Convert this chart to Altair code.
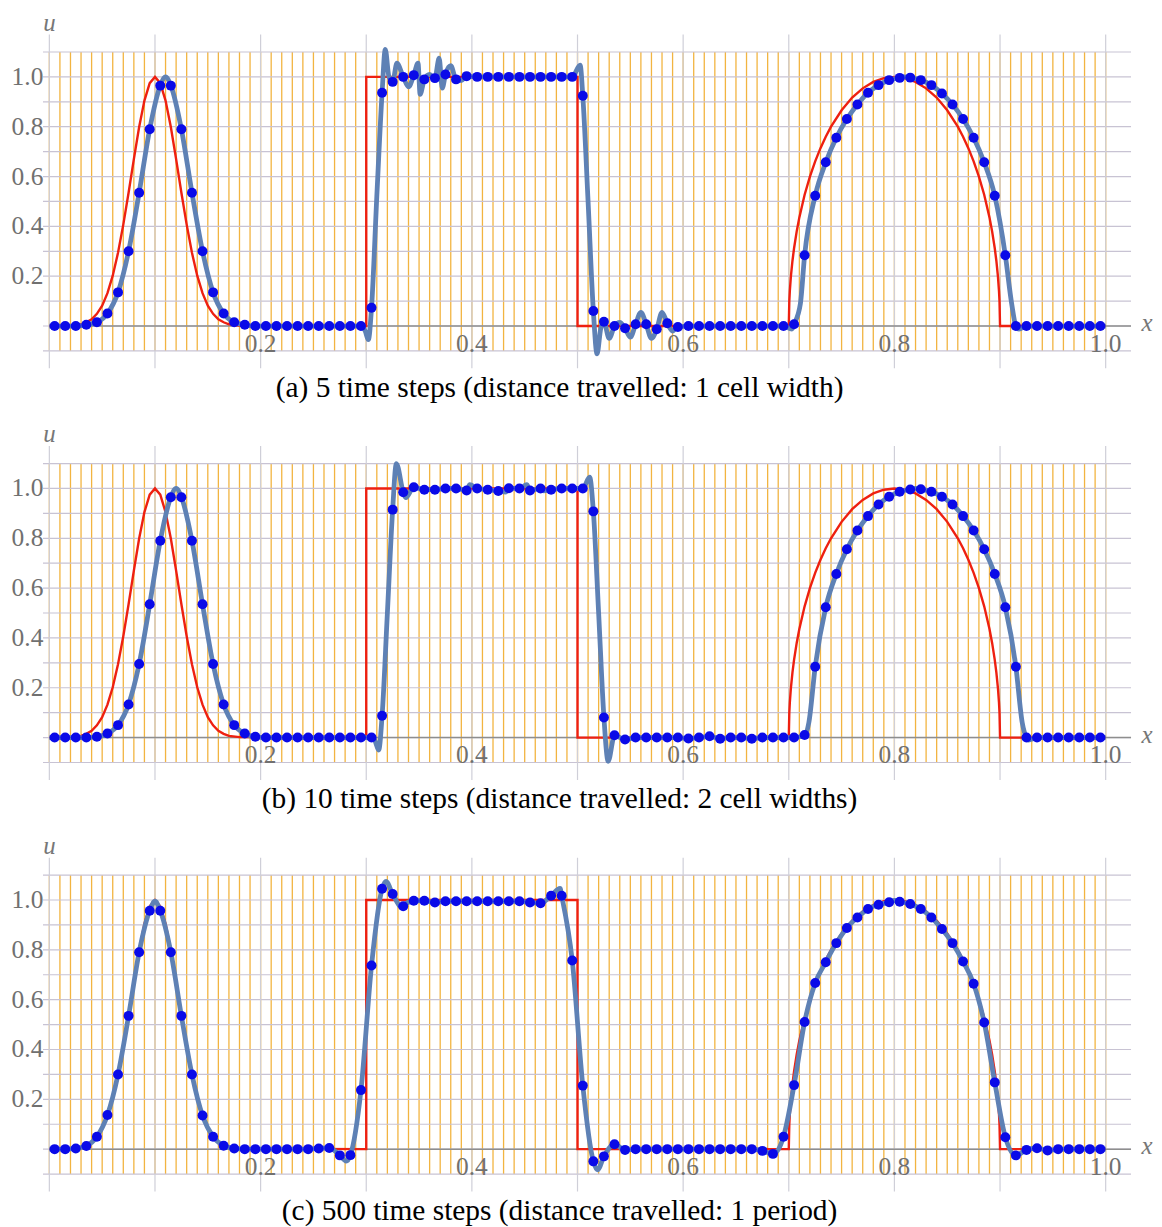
import altair as alt
import pandas as pd

# ---------------- data ----------------
# cell-average values (100 cells of width 0.01, plotted at cell centres)
dots_a = [0, 0, 0, 0.005, 0.015, 0.05, 0.135, 0.30, 0.535, 0.79,
          0.965, 0.965, 0.79, 0.535, 0.30, 0.135, 0.05, 0.015, 0.005, 0,
          0, 0, 0, 0, 0, 0, 0, 0, 0, 0,
          0.073, 0.936, 0.98, 1.0, 1.007, 0.99, 0.995, 1.01, 0.99, 1.003,
          1.0, 1.0, 1.0, 1.0, 1.0, 1.0, 1.0, 1.0, 1.0, 1.0,
          0.924, 0.06, 0.017, 0.0, -0.009, 0.007, 0.007, -0.013, 0.011, -0.004,
          0, 0, 0, 0, 0, 0, 0, 0, 0, 0,
          0.007, 0.284, 0.523, 0.657, 0.756, 0.831, 0.889, 0.936, 0.967, 0.987,
          0.996, 0.997, 0.987, 0.967, 0.933, 0.889, 0.831, 0.756, 0.657, 0.523,
          0.284, 0.0, 0, 0, 0, 0, 0, 0, 0, 0]

dots_b = [0, 0, 0, 0, 0.003, 0.016, 0.05, 0.133, 0.295, 0.535,
          0.79, 0.965, 0.965, 0.79, 0.535, 0.295, 0.133, 0.05, 0.016, 0.003,
          0, 0, 0, 0, 0, 0, 0, 0, 0, 0,
          0.0, 0.088, 0.915, 0.985, 1.005, 0.995, 0.995, 1.0, 1.0, 0.992,
          1.0, 0.995, 0.99, 1.001, 1.0, 0.992, 1.0, 0.995, 1.0, 1.0,
          1.0, 0.908, 0.081, 0.009, -0.008, 0, 0, 0, 0, 0,
          -0.004, 0, 0.005, -0.005, 0, 0, -0.005, 0, 0, 0,
          0, 0.01, 0.284, 0.523, 0.657, 0.756, 0.831, 0.889, 0.936, 0.967,
          0.987, 0.996, 0.997, 0.987, 0.967, 0.936, 0.889, 0.831, 0.756, 0.657,
          0.523, 0.284, 0.0, 0, 0, 0, 0, 0, 0, 0]

dots_c = [0, 0, 0.003, 0.013, 0.05, 0.137, 0.30, 0.535, 0.79, 0.957,
          0.957, 0.79, 0.535, 0.30, 0.135, 0.05, 0.014, 0.003, 0, 0,
          0, 0, 0, 0, 0, 0.003, 0.005, -0.025, -0.024, 0.237,
          0.737, 1.045, 1.024, 0.975, 0.997, 0.997, 0.99, 0.995, 0.995, 0.995,
          0.995, 0.995, 0.995, 0.995, 0.995, 0.99, 0.987, 1.017, 1.017, 0.757,
          0.255, -0.049, -0.029, 0.02, -0.003, 0, 0, 0, 0, 0,
          0, 0, 0, 0, 0, 0, 0, -0.007, -0.019, 0.05,
          0.257, 0.51, 0.667, 0.75, 0.827, 0.888, 0.93, 0.964, 0.981, 0.991,
          0.993, 0.984, 0.964, 0.93, 0.884, 0.827, 0.753, 0.664, 0.508, 0.268,
          0.048, -0.025, -0.003, 0.004, -0.005, 0, 0, 0, 0, 0]

# extra points of the blue reconstructed curve (overshoots, wiggles), (x, u)
curve_a = [(0.0, 0.0), (0.110, 1.0),
           (0.299, -0.02), (0.302, -0.055), (0.310, 0.52), (0.318, 1.11), (0.3215, 1.0),
           (0.329, 1.055), (0.340, 0.96), (0.349, 1.055), (0.351, 0.93), (0.360, 1.01),
           (0.369, 1.075), (0.372, 0.955), (0.380, 1.045), (0.390, 0.985),
           (0.5025, 1.047), (0.510, 0.5), (0.5185, -0.112), (0.522, -0.01),
           (0.530, -0.05), (0.540, 0.015), (0.550, -0.045), (0.560, 0.055),
           (0.570, -0.05), (0.580, 0.055), (0.590, -0.02),
           (0.703, -0.012), (0.711, 0.09), (0.810, 1.0), (0.911, 0.09), (0.918, -0.012),
           (1.0, 0.0)]

curve_b = [(0.0, 0.0), (0.120, 1.0),
           (0.308, -0.01), (0.3118, -0.05), (0.320, 0.5), (0.3285, 1.10), (0.3375, 0.963),
           (0.398, 1.015), (0.432, 0.985), (0.452, 1.015), (0.468, 0.99),
           (0.5115, 1.045), (0.520, 0.5), (0.529, -0.095),
           (0.719, 0.06), (0.820, 1.0), (0.921, 0.06), (0.927, -0.01),
           (1.0, 0.0)]

curve_c = [(0.0, 0.0), (0.100, 0.995), (0.281, -0.048), (0.3187, 1.075), (0.334, 0.97),
           (0.4835, 1.047), (0.519, -0.083), (0.800, 0.998), (1.0, 0.0)]

# red reference profile (x, u), drawn in this order
red_pts = [(0.0, 0.0), (0.02, 0.002), (0.03, 0.007), (0.035, 0.015), (0.04, 0.027),
           (0.045, 0.049), (0.05, 0.082), (0.055, 0.132), (0.06, 0.202), (0.065, 0.294),
           (0.07, 0.407), (0.075, 0.535), (0.08, 0.670), (0.085, 0.799), (0.09, 0.905),
           (0.095, 0.975), (0.1, 1.0), (0.105, 0.975), (0.11, 0.905), (0.115, 0.799),
           (0.12, 0.670), (0.125, 0.535), (0.13, 0.407), (0.135, 0.294), (0.14, 0.202),
           (0.145, 0.132), (0.15, 0.082), (0.155, 0.049), (0.16, 0.027), (0.165, 0.015),
           (0.17, 0.007), (0.18, 0.002),
           (0.3, 0.0), (0.3, 1.0), (0.5, 1.0), (0.5, 0.0),
           (0.7, 0.0), (0.7005, 0.100), (0.701, 0.141), (0.702, 0.199), (0.7035, 0.262),
           (0.705, 0.312), (0.7075, 0.380), (0.71, 0.436), (0.715, 0.527), (0.72, 0.6),
           (0.725, 0.661), (0.73, 0.714), (0.735, 0.760), (0.74, 0.8), (0.75, 0.866),
           (0.76, 0.917), (0.77, 0.954), (0.78, 0.980), (0.79, 0.995), (0.8, 1.0),
           (0.81, 0.995), (0.82, 0.980), (0.83, 0.954), (0.84, 0.917), (0.85, 0.866),
           (0.86, 0.8), (0.865, 0.760), (0.87, 0.714), (0.875, 0.661), (0.88, 0.6),
           (0.885, 0.527), (0.89, 0.436), (0.8925, 0.380), (0.895, 0.312), (0.8965, 0.262),
           (0.898, 0.199), (0.899, 0.141), (0.8995, 0.100), (0.9, 0.0), (1.0, 0.0)]

captions = ["(a) 5 time steps (distance travelled: 1 cell width)",
            "(b) 10 time steps (distance travelled: 2 cell widths)",
            "(c) 500 time steps (distance travelled: 1 period)"]

x_tick_values = [0.2, 0.4, 0.6, 0.8, 1.0]
x_tick_labels = ["0.2", "0.4", "0.6", "0.8", "1.0"]
y_tick_values = [0.2, 0.4, 0.6, 0.8, 1.0]
y_tick_labels = ["0.2", "0.4", "0.6", "0.8", "1.0"]
h_grid = [-0.1, 0.0, 0.1, 0.2, 0.3, 0.4, 0.5, 0.6, 0.7, 0.8, 0.9, 1.0, 1.1]
v_grid = [0.0, 0.1, 0.2, 0.3, 0.4, 0.5, 0.6, 0.7, 0.8, 0.9, 1.0]
n_cells = 100

# ---------------- layout ----------------
W = 1150
X_DOMAIN = [-0.03915, 1.04575]
Y_TOP = 1.268
PX_PER_U = 250.0
SERIF = "Liberation Serif"

cell_edges = [i / n_cells for i in range(n_cells + 1)]
cell_centres = [(i + 0.5) / n_cells for i in range(n_cells)]


def panel(dots, extra, caption, h):
    ymin = Y_TOP - h / PX_PER_U
    xs = alt.Scale(domain=X_DOMAIN, nice=False, zero=False)
    ys = alt.Scale(domain=[ymin, Y_TOP], nice=False, zero=False)

    def X(f):
        return alt.X(f, type="quantitative", scale=xs, axis=None)

    def Y(f):
        return alt.Y(f, type="quantitative", scale=ys, axis=None)

    orange = alt.Chart(pd.DataFrame({"x": cell_edges})).transform_calculate(
        y0="-0.1", y1="1.1").mark_rule(color="#F2B440", strokeWidth=1.3).encode(
        x=X("x"), y=Y("y0"), y2="y1:Q")

    hg = alt.Chart(pd.DataFrame({"y": h_grid})).transform_calculate(
        x0="-0.006", x1="1.024").mark_rule(color="#C8C3D3", strokeWidth=1.2).encode(
        y=Y("y"), x=X("x0"), x2="x1:Q")

    vg = alt.Chart(pd.DataFrame({"x": v_grid})).transform_calculate(
        y0="-0.17", y1="1.17").mark_rule(color="#CFCFD8", strokeWidth=1.2).encode(
        x=X("x"), y=Y("y0"), y2="y1:Q")

    xaxis = alt.Chart(pd.DataFrame({"y": [0.0]})).transform_calculate(
        x0="0", x1="1.024").mark_rule(color="#8E8E8E", strokeWidth=1.5).encode(
        x=X("x0"), x2="x1:Q", y=Y("y"))

    red_df = pd.DataFrame({"x": [p[0] for p in red_pts],
                           "u": [p[1] for p in red_pts],
                           "o": list(range(len(red_pts)))})
    red = alt.Chart(red_df).mark_line(color="#EE2010", strokeWidth=2.4).encode(
        x=X("x"), y=Y("u"), order="o:Q")

    cx = cell_centres + [p[0] for p in extra]
    cu = list(dots) + [p[1] for p in extra]
    blue_df = pd.DataFrame({"x": cx, "u": cu}).sort_values("x").reset_index(drop=True)
    blue_df["o"] = range(len(blue_df))
    blue = alt.Chart(blue_df).mark_line(
        color="#5E81B5", strokeWidth=4.8, interpolate="monotone").encode(
        x=X("x"), y=Y("u"), order="o:Q")

    dots_df = pd.DataFrame({"x": cell_centres, "u": dots})
    pts = alt.Chart(dots_df).mark_circle(color="#0A0AE8", opacity=1, size=100).encode(
        x=X("x"), y=Y("u"))

    xt = alt.Chart(pd.DataFrame({"x": x_tick_values, "t": x_tick_labels})).transform_calculate(
        y0="0").mark_text(
        font=SERIF, fontSize=25.5, color="#707070", baseline="middle", align="center",
        dy=18).encode(x=X("x"), y=Y("y0"), text="t:N")

    yt = alt.Chart(pd.DataFrame({"y": y_tick_values, "t": y_tick_labels})).transform_calculate(
        x0="0").mark_text(
        font=SERIF, fontSize=25.5, color="#707070", baseline="middle", align="right",
        dx=-6).encode(y=Y("y"), x=X("x0"), text="t:N")

    ulab = alt.Chart(pd.DataFrame({"t": ["u"]})).transform_calculate(
        x0="0", y0="1.218").mark_text(
        font=SERIF, fontSize=25, fontStyle="italic", color="#777777",
        baseline="middle", align="center").encode(
        x=X("x0"), y=Y("y0"), text="t:N")

    xlab = alt.Chart(pd.DataFrame({"t": ["x"]})).transform_calculate(
        x0="1.024", y0="0").mark_text(
        font=SERIF, fontSize=25, fontStyle="italic", color="#777777",
        baseline="middle", align="center", dx=16, dy=-3).encode(
        x=X("x0"), y=Y("y0"), text="t:N")

    cap = alt.Chart(pd.DataFrame({"t": [caption]})).transform_calculate(
        x0="0.5", y0="0").mark_text(
        font=SERIF, fontSize=29.5, color="#000000", baseline="middle", align="center",
        dx=-18, dy=62).encode(
        x=X("x0"), y=Y("y0"), text="t:N")

    return alt.layer(orange, hg, vg, xaxis, red, blue, pts, xt, yt, ulab, xlab, cap).properties(
        width=W, height=h)


chart = alt.vconcat(
    panel(dots_a, curve_a, captions[0], 413),
    panel(dots_b, curve_b, captions[1], 413),
    panel(dots_c, curve_c, captions[2], 395),
    spacing=0,
).resolve_scale(x="independent", y="independent").configure_view(
    stroke=None).configure_concat(spacing=0).properties(padding=0, background="white")

chart.save("out.html", embed_options={"renderer": "svg", "actions": False})
